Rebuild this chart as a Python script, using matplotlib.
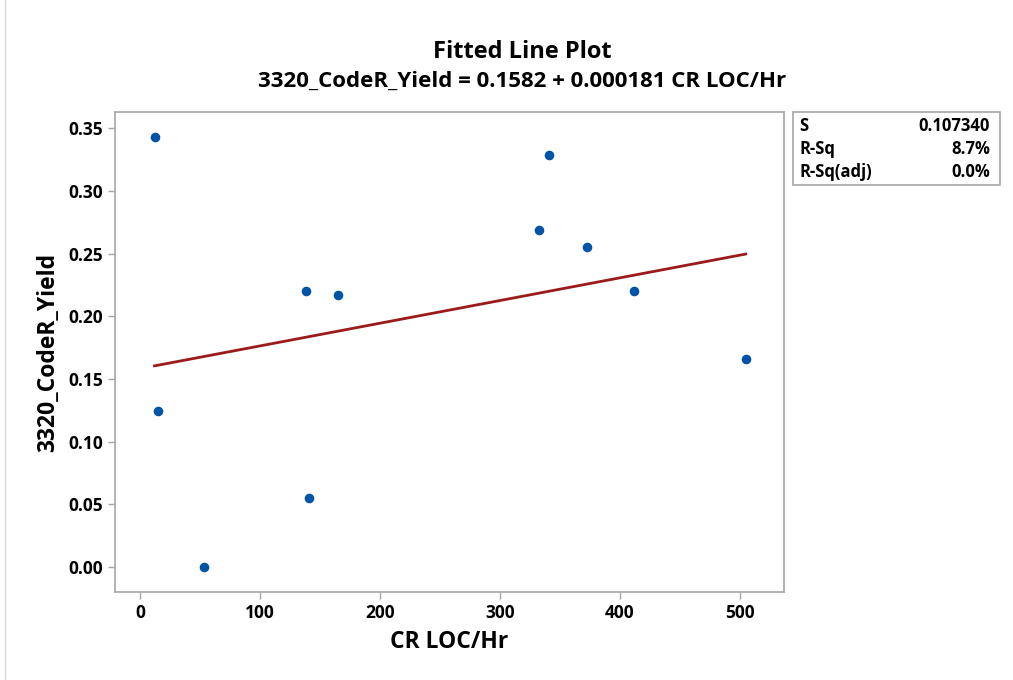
import numpy as np
import matplotlib
matplotlib.use("Agg")
import matplotlib.pyplot as plt
from matplotlib.patches import Rectangle

plt.rcParams['font.family'] = ['Open Sans', 'DejaVu Sans']

# ---- data ----
cr_loc_hr = [12, 15, 53, 138, 141, 165, 333, 341, 373, 412, 505]
yield_vals = [0.343, 0.124, 0.000, 0.220, 0.055, 0.217, 0.269, 0.329, 0.255, 0.220, 0.166]

intercept = 0.1582
slope = 0.000181
stats_names = ['S', 'R-Sq', 'R-Sq(adj)']
stats_vals = ['0.107340', '8.7%', '0.0%']

x_ticks = [0, 100, 200, 300, 400, 500]
y_ticks = [0.00, 0.05, 0.10, 0.15, 0.20, 0.25, 0.30, 0.35]

# ---- figure ----
fig = plt.figure(figsize=(10.13, 6.8), dpi=100)
ax = fig.add_axes([0.1135, 0.1294, 0.6605, 0.7056])

ax.scatter(cr_loc_hr, yield_vals, s=48, color='#0054a6', zorder=3, linewidths=0)
xfit = np.array([min(cr_loc_hr), max(cr_loc_hr)])
ax.plot(xfit, intercept + slope * xfit, color='#9b1b1b', lw=2, zorder=2)

ax.set_xlim(-21, 537)
ax.set_ylim(-0.0201, 0.3628)
ax.set_xticks(x_ticks)
ax.set_yticks(y_ticks)
ax.set_yticklabels([f'{v:.2f}' for v in y_ticks])

for sp in ax.spines.values():
    sp.set_color('#a6a6a6')
    sp.set_linewidth(1.2)
ax.tick_params(colors='#a6a6a6', labelcolor='black', length=5, width=1,
               labelsize=12.5)
for lab in ax.get_xticklabels() + ax.get_yticklabels():
    lab.set_fontweight('bold')

ax.set_xlabel('CR LOC/Hr', fontsize=16.5, fontweight='bold', labelpad=6)
ax.set_ylabel('3320_CodeR_Yield', fontsize=16.5, fontweight='bold', labelpad=6)

fig.text(0.5155, 0.923, 'Fitted Line Plot', ha='center', va='center',
         fontsize=17, fontweight='bold')
fig.text(0.5155, 0.880, '3320_CodeR_Yield = 0.1582 + 0.000181 CR LOC/Hr',
         ha='center', va='center', fontsize=16, fontweight='bold')

# stats box
bx0, bx1 = 793 / 1013, 1000 / 1013
by1, by0 = 1 - 112 / 680, 1 - 185 / 680
fig.patches.append(Rectangle((bx0, by0), bx1 - bx0, by1 - by0, transform=fig.transFigure,
                             fill=False, edgecolor='#a6a6a6', lw=1.2))
line_y = [126, 149, 172]
for name, val, py in zip(stats_names, stats_vals, line_y):
    fig.text(bx0 + 6 / 1013, 1 - py / 680, name, ha='left', va='center',
             fontsize=12, fontweight='bold')
    fig.text(bx1 - 10 / 1013, 1 - py / 680, val, ha='right', va='center',
             fontsize=12, fontweight='bold')

# outer frame
fig.patches.append(Rectangle((5 / 1013, -0.01), 1.0, 1.02, transform=fig.transFigure,
                             fill=False, edgecolor='#d9d9d9', lw=1))

fig.savefig('out.png', dpi=100)
